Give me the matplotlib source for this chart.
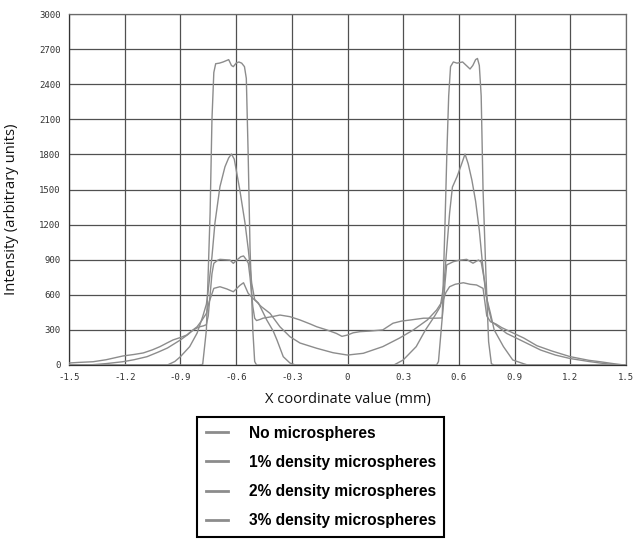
import matplotlib
matplotlib.use("Agg")
import matplotlib.pyplot as plt
import numpy as np

# ---------------- data ----------------
x_ticks = [-1.5, -1.2, -0.9, -0.6, -0.3, 0, 0.3, 0.6, 0.9, 1.2, 1.5]
x_tick_labels = ["-1.5", "-1.2", "-0.9", "-0.6", "-0.3", "0", "0.3", "0.6", "0.9", "1.2", "1.5"]
y_ticks = [0, 300, 600, 900, 1200, 1500, 1800, 2100, 2400, 2700, 3000]

labels = ["No microspheres", "1% density microspheres",
          "2% density microspheres", "3% density microspheres"]

x0 = [-1.5, -0.80, -0.78, -0.76, -0.74, -0.73, -0.72, -0.71, -0.69, -0.67, -0.655, -0.64,
      -0.625, -0.615, -0.60, -0.585, -0.57, -0.555, -0.545, -0.535, -0.525, -0.51, -0.50,
      -0.49, 0.48, 0.49, 0.51, 0.525, 0.535, 0.545, 0.555, 0.57, 0.59, 0.605, 0.62, 0.64,
      0.66, 0.675, 0.69, 0.70, 0.71, 0.72, 0.73, 0.745, 0.76, 0.775, 0.79, 1.5]
y0 = [0, 0, 5, 300, 1300, 2100, 2500, 2575, 2580, 2590, 2600, 2610,
      2560, 2550, 2580, 2590, 2580, 2550, 2450, 1800, 1000, 300, 30,
      0, 0, 30, 400, 1200, 1800, 2300, 2550, 2590, 2580, 2585, 2590, 2560,
      2530, 2560, 2610, 2620, 2560, 2300, 1500, 800, 200, 10, 0, 0]

x1 = [-1.5, -0.97, -0.93, -0.90, -0.85, -0.81, -0.78, -0.76, -0.75, -0.73, -0.714, -0.687,
      -0.66, -0.64, -0.625, -0.61, -0.58, -0.552, -0.534, -0.516, -0.50, -0.48, -0.455,
      -0.435, -0.40, -0.38, -0.346, -0.31, -0.28, 0.25, 0.30, 0.37, 0.42, 0.47, 0.50,
      0.52, 0.535, 0.55, 0.565, 0.59, 0.615, 0.633, 0.65, 0.67, 0.69, 0.71, 0.725, 0.745,
      0.77, 0.79, 0.84, 0.89, 0.95, 0.97, 1.5]
y1 = [0, 0, 30, 71, 157, 273, 413, 520, 640, 926, 1213, 1524,
      1694, 1770, 1803, 1760, 1496, 1213, 983, 700, 560, 530, 450,
      385, 290, 214, 71, 17, 0, 0, 43, 157, 300, 420, 500,
      700, 1000, 1300, 1520, 1610, 1720, 1803, 1720, 1580, 1400, 1150, 900, 600,
      441, 300, 157, 43, 10, 0, 0]

x2 = [-1.5, -1.40, -1.37, -1.30, -1.21, -1.15, -1.08, -1.02, -0.97, -0.90, -0.86, -0.83,
      -0.80, -0.775, -0.76, -0.75, -0.74, -0.73, -0.72, -0.70, -0.687, -0.66, -0.633,
      -0.615, -0.59, -0.575, -0.56, -0.545, -0.534, -0.525, -0.51, -0.50, -0.49, -0.47,
      -0.455, -0.40, -0.364, -0.31, -0.256, -0.20, -0.166, -0.112, -0.06, -0.03, 0.0,
      0.03, 0.067, 0.12, 0.19, 0.245, 0.29, 0.34, 0.41, 0.47, 0.51, 0.515, 0.525, 0.534,
      0.57, 0.60, 0.642, 0.66, 0.676, 0.705, 0.72, 0.74, 0.757, 0.777, 0.80, 0.857, 0.93,
      1.04, 1.12, 1.2, 1.3, 1.36, 1.45, 1.5]
y2 = [0, 0, 3, 12, 28, 45, 71, 110, 145, 214, 260, 300,
      325, 335, 345, 420, 600, 780, 869, 895, 903, 900, 897,
      869, 905, 925, 932, 900, 869, 750, 500, 400, 380, 390,
      400, 415, 427, 413, 385, 350, 327, 300, 270, 245, 256,
      275, 285, 290, 300, 357, 375, 385, 400, 400, 402, 480, 700, 855,
      883, 895, 903, 885, 870, 897, 880, 700, 498, 370, 342, 270, 214,
      128, 85, 55, 30, 17, 0, 0]

x3 = [-1.5, -1.45, -1.37, -1.30, -1.21, -1.15, -1.10, -1.05, -1.01, -0.97, -0.94, -0.90,
      -0.866, -0.84, -0.81, -0.785, -0.76, -0.745, -0.72, -0.687, -0.65, -0.615, -0.58,
      -0.56, -0.535, -0.51, -0.49, -0.465, -0.417, -0.364, -0.31, -0.256, -0.166, -0.078,
      0.0, 0.085, 0.19, 0.28, 0.355, 0.43, 0.48, 0.515, 0.53, 0.55, 0.58, 0.624, 0.66,
      0.695, 0.73, 0.75, 0.77, 0.80, 0.83, 0.89, 0.95, 1.02, 1.1, 1.2, 1.3, 1.36, 1.43,
      1.48, 1.5]
y3 = [17, 22, 28, 45, 77, 90, 103, 130, 157, 190, 214, 235,
      256, 290, 327, 380, 441, 540, 655, 669, 650, 626, 680,
      703, 613, 570, 541, 500, 441, 327, 242, 188, 143, 105,
      85, 100, 157, 230, 300, 385, 470, 555, 620, 669, 690, 703, 690,
      684, 655, 420, 370, 350, 320, 275, 230, 165, 120, 71, 40, 28, 12,
      2, 0]

# ---------------- figure ----------------
fig = plt.figure(figsize=(6.34, 5.39), dpi=100)
ax = fig.add_axes([69/634, 1-365/539, (626-69)/634, (365-14)/539])

line_color = "#8c8c8c"
for xs, ys in [(x0, y0), (x1, y1), (x2, y2), (x3, y3)]:
    ax.plot(xs, ys, color=line_color, lw=1.0, zorder=3)

ax.set_xlim(-1.5, 1.5)
ax.set_ylim(0, 3000)
ax.set_xticks(x_ticks)
ax.set_xticklabels(x_tick_labels)
ax.set_yticks(y_ticks)
ax.grid(True, color="#505050", lw=0.9, zorder=1)
ax.set_axisbelow(True)
for s in ax.spines.values():
    s.set_color("#6a6a6a")
    s.set_linewidth(0.9)
ax.spines["left"].set_color("#333333")
ax.spines["bottom"].set_color("#333333")
ax.tick_params(length=0, labelsize=6.5, colors="#333333", pad=6)
for lab in ax.get_xticklabels() + ax.get_yticklabels():
    lab.set_fontfamily("DejaVu Sans Mono")

ax.set_xlabel("X coordinate value (mm)", fontfamily="Open Sans", fontsize=10.5,
              color="#111111", labelpad=7)
ax.set_ylabel("Intensity (arbitrary units)", fontfamily="Open Sans", fontsize=10.7,
              color="#111111")
ax.yaxis.set_label_coords(-0.0898, 0.444)

handles = [plt.Line2D([], [], color=line_color, lw=2) for _ in labels]
leg = fig.legend(handles, labels, loc="upper center", bbox_to_anchor=(0.506, 1-417/539),
                 frameon=True, fancybox=False, edgecolor="black", framealpha=1,
                 prop={"family": "Liberation Sans", "weight": "bold", "size": 11.2},
                 handlelength=1.4, handletextpad=1.35, labelspacing=0.92,
                 borderpad=0.55, borderaxespad=0)
leg.get_frame().set_linewidth(1.5)

fig.savefig("out.png", dpi=100)
